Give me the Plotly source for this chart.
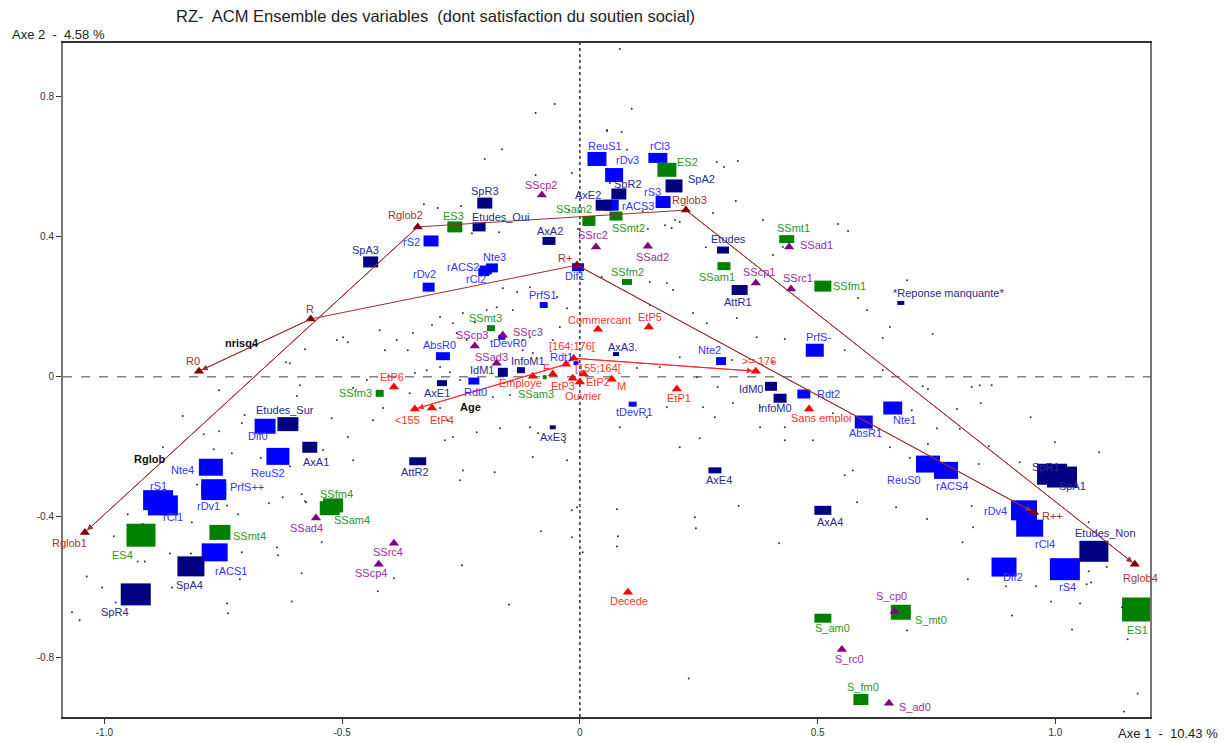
import plotly.graph_objects as go

# ---------------- DATA ----------------
# Blue squares (active categories)
blue_names = ["ReuS1","rDv3","rACS3","rCl3","rS3","rS2","Nte3","rACS2","rCl2","rDv2","Dif1","PrfS1",
              "tDevR0","AbsR0","Rdt0","Rdt1","Nte2","PrfS-","tDevR1","Rdt2","AbsR1","Nte1","ReuS0","rACS4",
              "rDv4","rCl4","Dif2","rS4","Dif0","ReuS2","Nte4","PrfS++","rDv1","rS1","rCl1","rACS1"]
blue_x = [0.036,0.072,0.067,0.164,0.175,-0.313,-0.185,-0.198,-0.202,-0.318,-0.004,-0.076,
          -0.164,-0.288,-0.223,-0.008,0.297,0.494,0.111,0.471,0.597,0.658,0.732,0.770,
          0.934,0.946,0.892,1.020,-0.662,-0.635,-0.776,-0.770,-0.770,-0.887,-0.877,-0.768]
blue_y = [0.622,0.576,0.490,0.625,0.499,0.388,0.311,0.305,0.299,0.256,0.313,0.205,
          0.113,0.059,-0.012,0.039,0.045,0.076,-0.078,-0.049,-0.129,-0.089,-0.249,-0.267,
          -0.381,-0.432,-0.543,-0.549,-0.141,-0.227,-0.258,-0.315,-0.329,-0.352,-0.367,-0.501]

# Navy squares
navy_names = ["SpR3","AxE2","SpR2","SpA2","Etudes_Oui","AxA2","SpA3","Etudes","AttR1","*Reponse manquante*",
              "InfoM1","IdM1","AxA3.","AxE1","AxE3","IdM0","InfoM0","AxE4","AxA1","AttR2","Etudes_Sur","AxA4",
              "SpR1","SpA1","Etudes_Non","SpA4","SpR4"]
navy_x = [-0.200,0.050,0.082,0.198,-0.212,-0.065,-0.440,0.301,0.336,0.675,
          -0.124,-0.162,0.076,-0.290,-0.057,0.402,0.421,0.284,-0.568,-0.341,-0.614,0.511,
          0.993,1.014,1.081,-0.818,-0.934]
navy_y = [0.496,0.490,0.522,0.545,0.428,0.388,0.328,0.362,0.248,0.211,
          0.019,0.013,0.065,-0.018,-0.144,-0.027,-0.061,-0.267,-0.201,-0.241,-0.135,-0.381,
          -0.278,-0.286,-0.498,-0.541,-0.621]

# Green squares
green_names = ["SSam2","ES3","ES2","SSmt2","SSmt1","SSam1","SSfm2","SSfm1","SSmt3","SSam3","SSfm3",
               "SSfm4","SSam4","SSmt4","ES4","S_mt0","S_am0","S_fm0","ES1"]
green_x = [0.019,-0.263,0.183,0.076,0.435,0.303,0.099,0.511,-0.187,-0.074,-0.421,
           -0.519,-0.526,-0.757,-0.923,0.675,0.511,0.591,1.176]
green_y = [0.445,0.428,0.591,0.459,0.393,0.316,0.271,0.259,0.139,-0.001,-0.047,
           -0.367,-0.375,-0.444,-0.452,-0.672,-0.689,-0.921,-0.664]

# Purple triangles
purple_names = ["SScp2","SSrc2","SSad2","SSad1","SScp1","SSrc1","SScp3","SSrc3","SSad3",
                "SSad4","SSrc4","SScp4","S_cp0","S_rc0","S_ad0"]
purple_x = [-0.080,0.034,0.143,0.440,0.370,0.444,-0.221,-0.162,-0.175,-0.555,-0.391,-0.423,0.662,0.551,0.650]
purple_y = [0.519,0.371,0.373,0.371,0.268,0.251,0.088,0.119,0.039,-0.403,-0.475,-0.535,-0.669,-0.778,-0.932]

# Red triangles (illustrative)
red_names = ["Commercant","EtP5","[164;176[","[155;164[","F","Employe","EtP3","Ouvrier","EtP2","M",
             "EtP6","<155","EtP4",">= 176","EtP1","Sans emploi","Decede"]
red_x = [0.038,0.145,-0.013,-0.029,-0.057,-0.099,-0.015,0.000,0.008,0.067,-0.391,-0.347,-0.311,0.370,0.204,0.482,0.101]
red_y = [0.136,0.142,0.053,0.036,0.008,0.002,-0.004,-0.015,0.008,-0.007,-0.029,-0.092,-0.089,0.016,-0.035,-0.092,-0.615]

# Dark red triangles (risk trajectories)
dred_names = ["Rglob1","Rglob2","Rglob3","Rglob4","R0","R","R+","R++"]
dred_x = [-1.041,-0.341,0.223,1.167,-0.801,-0.566,-0.006,0.955]
dred_y = [-0.444,0.428,0.476,-0.535,0.016,0.165,0.319,-0.387]

# Trajectories (ordered categories)
traj_rglob = ["Rglob1","Rglob2","Rglob3","Rglob4"]
traj_r = ["R0","R","R+","R++"]
traj_age = ["<155","[155;164[","[164;176[",">= 176"]

# Variable names (bold)
var_names = ["nrisq4","Rglob","Age"]
var_x = [-0.711,-0.906,-0.229]
var_y = [0.096,-0.235,-0.087]

# Individuals (small dots)
ind_x = [-0.053,-0.093,-0.164,-0.200,-0.093,-0.017,-0.328,-0.299,-0.250,-0.170,-0.227,-0.004,-0.023,0.057,0.063,
         0.084,0.109,0.057,0.088,0.099,0.288,0.303,0.332,0.328,0.385,0.280,0.200,0.210,0.193,0.179,0.143,0.265,0.543,0.564,0.132,
         -0.759,-0.835,-0.791,-0.759,-0.711,-0.732,-0.770,-0.877,-0.705,-0.610,-0.618,-0.595,-0.589,-0.578,-0.671,-0.610,-0.805,
         -0.511,-0.498,-0.488,-0.421,-0.385,-0.410,-0.362,-0.351,-0.311,-0.294,-0.267,-0.246,-0.238,-0.221,-0.196,-0.175,-0.141,
         -0.120,-0.105,-0.120,-0.099,-0.057,-0.042,-0.027,-0.048,-0.105,-0.132,-0.162,-0.259,-0.294,-0.273,-0.252,-0.322,-0.347,
         -0.358,-0.448,-0.477,-0.435,-0.278,-0.267,-0.217,-0.168,-0.105,-0.088,-0.294,-0.414,-0.488,-0.522,-0.183,-0.147,-0.179,
         -0.246,-0.252,-0.099,-0.032,-0.027,-0.477,-0.540,-0.284,
         0.046,0.147,0.183,0.196,0.147,0.238,0.267,0.330,0.372,0.431,0.406,0.320,0.210,0.168,0.120,0.246,0.290,0.322,0.379,0.259,
         0.183,0.141,0.084,0.210,0.252,0.284,0.379,0.431,0.431,0.490,0.532,0.574,0.652,0.652,0.604,0.585,0.637,0.557,0.637,0.688,
         0.427,0.406,0.557,
         0.742,0.721,0.732,0.824,0.841,0.866,0.843,0.793,0.698,0.751,0.799,0.732,0.948,0.999,1.092,0.860,0.839,0.694,0.925,
         -1.037,-1.005,-1.068,-1.052,-0.976,-0.980,-0.951,-0.919,-0.930,-0.915,-0.862,-0.818,-0.858,-0.816,-0.719,-0.654,-0.625,
         -0.585,-0.578,-0.742,-0.740,-0.715,-0.711,-0.637,-0.635,-0.585,-0.606,-0.742,
         -0.576,-0.543,-0.391,-0.425,-0.248,-0.149,-0.082,-0.017,-0.017,-0.006,0.006,
         0.078,0.080,0.078,0.242,0.244,0.334,0.419,0.583,0.665,0.688,0.229,
         0.824,0.730,0.827,0.805,0.816,0.896,0.959,0.991,1.052,1.066,1.075,1.070,1.108,1.035,0.909,1.070,1.152,1.173,1.144,1.140]
ind_y = [0.779,0.753,0.650,0.622,0.576,0.582,0.493,0.482,0.488,0.413,0.410,0.422,0.476,0.705,0.553,
         0.936,0.765,0.702,0.699,0.648,0.613,0.599,0.616,0.502,0.448,0.468,0.448,0.442,0.425,0.433,0.422,0.370,0.436,0.416,0.473,
         -0.038,-0.112,-0.164,-0.155,-0.132,-0.218,-0.207,-0.201,-0.109,0.039,0.042,-0.055,-0.024,0.079,-0.232,-0.255,-0.307,
         0.105,0.113,0.099,0.133,0.105,0.076,0.076,0.125,0.148,0.171,0.153,0.182,0.105,0.156,0.191,0.199,0.191,
         0.105,0.113,0.076,0.068,0.105,0.142,0.196,0.228,0.256,0.242,0.253,0.125,0.028,0.013,-0.009,0.019,0.011,
         -0.047,-0.009,-0.032,-0.124,-0.124,-0.172,-0.158,-0.147,-0.144,-0.161,-0.089,-0.089,-0.172,-0.118,-0.058,-0.052,-0.272,
         -0.267,-0.295,-0.229,-0.187,-0.238,-0.238,-0.209,-0.181,
         0.285,0.271,0.268,0.248,0.205,0.182,0.153,0.168,0.113,0.108,0.042,0.048,0.056,0.028,0.025,-0.001,-0.029,-0.075,-0.087,-0.087,
         -0.087,-0.115,-0.144,-0.201,-0.175,-0.115,-0.144,-0.144,-0.181,-0.181,-0.104,-0.267,-0.201,0.142,0.191,0.225,0.111,0.076,0.019,0.276,
         0.371,0.348,-0.281,
         0.122,-0.027,-0.035,-0.029,-0.024,-0.024,-0.075,-0.092,-0.095,-0.147,-0.149,-0.192,-0.115,-0.187,-0.215,-0.198,-0.249,-0.232,-0.244,
         -0.570,-0.601,-0.672,-0.695,-0.644,-0.455,-0.392,-0.421,-0.527,-0.527,-0.504,-0.504,-0.601,-0.415,-0.392,-0.361,-0.344,
         -0.335,-0.355,-0.647,-0.675,-0.578,-0.501,-0.487,-0.509,-0.561,-0.641,-0.367,
         -0.358,-0.472,-0.575,-0.612,-0.538,-0.650,-0.441,-0.458,-0.381,-0.372,-0.501,
         -0.378,-0.455,-0.484,-0.401,-0.432,-0.369,-0.475,-0.358,-0.372,-0.724,-0.861,
         -0.369,-0.406,-0.429,-0.472,-0.578,-0.598,-0.598,-0.641,-0.647,-0.592,-0.587,-0.555,-0.543,-0.721,-0.681,-0.415,-0.749,-0.904,-0.955,-0.658]

x_ticks = [-1.0, -0.5, 0.0, 0.5, 1.0]
x_ticktext = ["-1.0", "-0.5", "0", "0.5", "1.0"]
y_ticks = [-0.8, -0.4, 0.0, 0.4, 0.8]
y_ticktext = ["-0.8", "-0.4", "0", "0.4", "0.8"]

title_text = "RZ-\u00a0 ACM Ensemble des variables\u00a0 (dont satisfaction du soutien social)"
x_title = "Axe 1\u00a0 -\u00a0 10.43 %"
y_title = "Axe 2\u00a0 -\u00a0 4.58 %"

# ---------------- STYLE (marker sizes in px, label offsets in px) ----------------
blue_w = [19,18,14,19,15,15,12,12,11,12,12,8,7,14,11,5,10,18,8,13,18,19,24,24,26,27,25,30,21,23,24,25,25,30,30,26]
blue_h = [14,14,11,10,12,11,9,9,8,9,8,6,5,8,7,4,8,13,5,9,13,13,17,17,20,17,19,22,15,17,17,16,16,20,20,18]
blue_off = [(8,-13),(13,-15),(26,1),(2,-12),(-11,-10),(-20,1),(3,-11),(-23,-3),(-8,7),(-4,-13),(-3,9),(-1,-10),
            (7,6),(-3,-11),(2,11),(-15,-6),(-12,-11),(4,-13),(2,8),(25,0),(2,11),(12,12),(-24,16),(6,16),
            (-28,1),(15,16),(9,10),(3,18),(-7,10),(-10,17),(-28,3),(33,0),(-5,14),(0,-14),(10,12),(16,19)]
navy_w = [15,16,15,17,13,13,15,12,16,7,8,10,6,10,6,12,13,13,15,17,21,17,30,30,29,27,30]
navy_h = [11,11,11,13,9,8,11,7,10,4,6,9,4,6,4,9,9,6,11,8,14,9,21,21,21,20,22]
navy_off = [(0,-12),(-16,-10),(9,-10),(27,-7),(21,-10),(1,-10),(-5,-12),(5,-11),(-2,12),(48,-10),
            (7,-9),(-21,-2),(6,-7),(-5,10),(0,10),(-20,3),(-5,10),(4,10),(6,15),(-3,11),(-3,-14),(7,12),
            (-6,-7),(10,9),(12,-18),(-1,19),(-21,18)]
green_w = [13,15,19,13,15,13,10,17,8,4,8,20,20,21,29,20,17,15,34]
green_h = [10,11,14,9,8,8,6,11,6,4,7,14,14,15,23,15,9,11,24]
green_off = [(-15,-12),(-1,-11),(21,-8),(12,12),(7,-11),(-7,11),(1,-10),(27,0),(-5,-10),(-9,17),(-24,0),
             (3,-11),(22,12),(30,4),(-18,20),(30,8),(10,10),(2,-12),(-2,21)]
purple_off = [(-1,-10),(-3,-12),(5,11),(27,-2),(3,-11),(7,-11),(-3,-11),(25,-3),(-5,-6),
              (-9,10),(-6,9),(-8,9),(-3,-15),(8,10),(26,4)]
red_off = [(2,-9),(1,-10),(-2,-12),(32,4),(-6,-6),(-12,7),(-10,8),(3,14),(14,8),(10,7),
           (-2,-10),(-7,11),(10,12),(3,-10),(2,9),(12,9),(1,9)]
dred_off = [(-15,11),(-12,-12),(4,-10),(6,14),(-6,-10),(-1,-10),(-12,-7),(19,4)]

FONT = "Liberation Sans, Arial, sans-serif"
LBL = 11

fig = go.Figure()

# individuals
fig.add_trace(go.Scatter(x=ind_x, y=ind_y, mode="markers",
                         marker=dict(size=2, color="#333333"), hoverinfo="skip", showlegend=False))

lookup = {}
for n, x, y in zip(red_names, red_x, red_y):
    lookup[n] = (x, y)
for n, x, y in zip(dred_names, dred_x, dred_y):
    lookup[n] = (x, y)

def add_traj(names, color):
    xs = [lookup[n][0] for n in names]
    ys = [lookup[n][1] for n in names]
    fig.add_trace(go.Scatter(x=xs, y=ys, mode="lines", line=dict(color=color, width=1),
                             hoverinfo="skip", showlegend=False))
    for (a, b) in [(1, 0), (len(xs) - 2, len(xs) - 1)]:
        fig.add_annotation(x=xs[b], y=ys[b], ax=xs[a], ay=ys[a], xref="x", yref="y",
                           axref="x", ayref="y", text="", showarrow=True, arrowhead=2,
                           arrowsize=1.2, arrowwidth=1, arrowcolor=color, standoff=3)

add_traj(traj_rglob, "#9b3030")
add_traj(traj_r, "#9b3030")
add_traj(traj_age, "#ff2a2a")

def add_labels(names, xs, ys, offs, tcolor, bold=False):
    for n, x, y, (dx, dy) in zip(names, xs, ys, offs):
        fig.add_annotation(x=x, y=y, xref="x", yref="y", xshift=dx, yshift=-dy,
                           text=("<b>%s</b>" % n) if bold else n, showarrow=False,
                           xanchor="center", yanchor="middle",
                           font=dict(color=tcolor, size=LBL, family=FONT))

def add_rects(names, xs, ys, ws, hs, offs, fill, tcolor):
    for x, y, w, h in zip(xs, ys, ws, hs):
        fig.add_shape(type="rect", xref="x", yref="y", xsizemode="pixel", ysizemode="pixel",
                      xanchor=x, yanchor=y, x0=-w / 2, x1=w / 2, y0=-h / 2, y1=h / 2,
                      fillcolor=fill, line=dict(width=0), layer="below")
    fig.add_trace(go.Scatter(x=xs, y=ys, mode="markers", text=names, hoverinfo="text",
                             marker=dict(size=8, symbol="square", color=fill, opacity=0,
                                         line=dict(width=0)),
                             showlegend=False))
    add_labels(names, xs, ys, offs, tcolor)

add_rects(blue_names, blue_x, blue_y, blue_w, blue_h, blue_off, "#0000ff", "#3535ff")
add_rects(navy_names, navy_x, navy_y, navy_w, navy_h, navy_off, "#000080", "#2a2a8c")
add_rects(green_names, green_x, green_y, green_w, green_h, green_off, "#008000", "#2a962a")

def add_tri(names, xs, ys, offs, color, tcolor):
    fig.add_trace(go.Scatter(x=xs, y=ys, mode="markers", text=names, hoverinfo="text",
                             marker=dict(symbol="triangle-up", size=9, color=color, line=dict(width=0)),
                             showlegend=False))
    add_labels(names, xs, ys, offs, tcolor)

add_tri(purple_names, purple_x, purple_y, purple_off, "#800080", "#9c2e9c")
add_tri(red_names, red_x, red_y, red_off, "#ff0000", "#ff3030")
add_tri(dred_names, dred_x, dred_y, dred_off, "#800000", "#9b3535")

add_labels(var_names, var_x, var_y, [(0, 0)] * len(var_names), "#111111", bold=True)

# reference lines through origin
fig.add_shape(type="line", xref="paper", yref="y", x0=0, x1=1, y0=0, y1=0,
              line=dict(color="#444444", width=1, dash="dash"), layer="below")
fig.add_shape(type="line", xref="x", yref="paper", x0=0, x1=0, y0=0, y1=1,
              line=dict(color="#333333", width=1.5, dash="dot"), layer="below")

fig.update_layout(
    width=1228, height=743,
    margin=dict(l=63, r=78, t=43, b=26, autoexpand=False),
    paper_bgcolor="white", plot_bgcolor="white",
    font=dict(family=FONT, size=10, color="#333333"),
    showlegend=False,
    xaxis=dict(range=[-1.087, 1.199], tickvals=x_ticks, ticktext=x_ticktext, showgrid=False,
               zeroline=False, showline=True, linecolor="#333333", linewidth=1.5, mirror=True,
               automargin=False,
               ticks="outside", ticklen=5, tickcolor="#333333", tickfont=dict(size=10, color="#333333")),
    yaxis=dict(range=[-0.971, 0.953], tickvals=y_ticks, ticktext=y_ticktext, showgrid=False,
               zeroline=False, showline=True, linecolor="#777777", linewidth=2, mirror=True,
               automargin=False,
               ticks="outside", ticklen=5, tickcolor="#333333", tickfont=dict(size=10, color="#333333")),
)

fig.add_annotation(text=title_text, xref="paper", yref="paper", x=0.343, y=1, yshift=27,
                   xanchor="center", yanchor="middle", showarrow=False,
                   font=dict(size=16.5, color="#222222", family=FONT))
fig.add_annotation(text=y_title, xref="paper", yref="paper", x=0, xshift=-53, y=1, yshift=9,
                   xanchor="left", yanchor="middle", showarrow=False,
                   font=dict(size=13, color="#222222", family=FONT))
fig.add_annotation(text=x_title, xref="paper", yref="paper", x=1, xshift=70, y=0, yshift=-16,
                   xanchor="right", yanchor="middle", showarrow=False,
                   font=dict(size=13, color="#222222", family=FONT))

fig.write_html("out.html", config={"displayModeBar": False},
               post_script="document.body.style.margin='0';document.body.style.overflow='hidden';")
